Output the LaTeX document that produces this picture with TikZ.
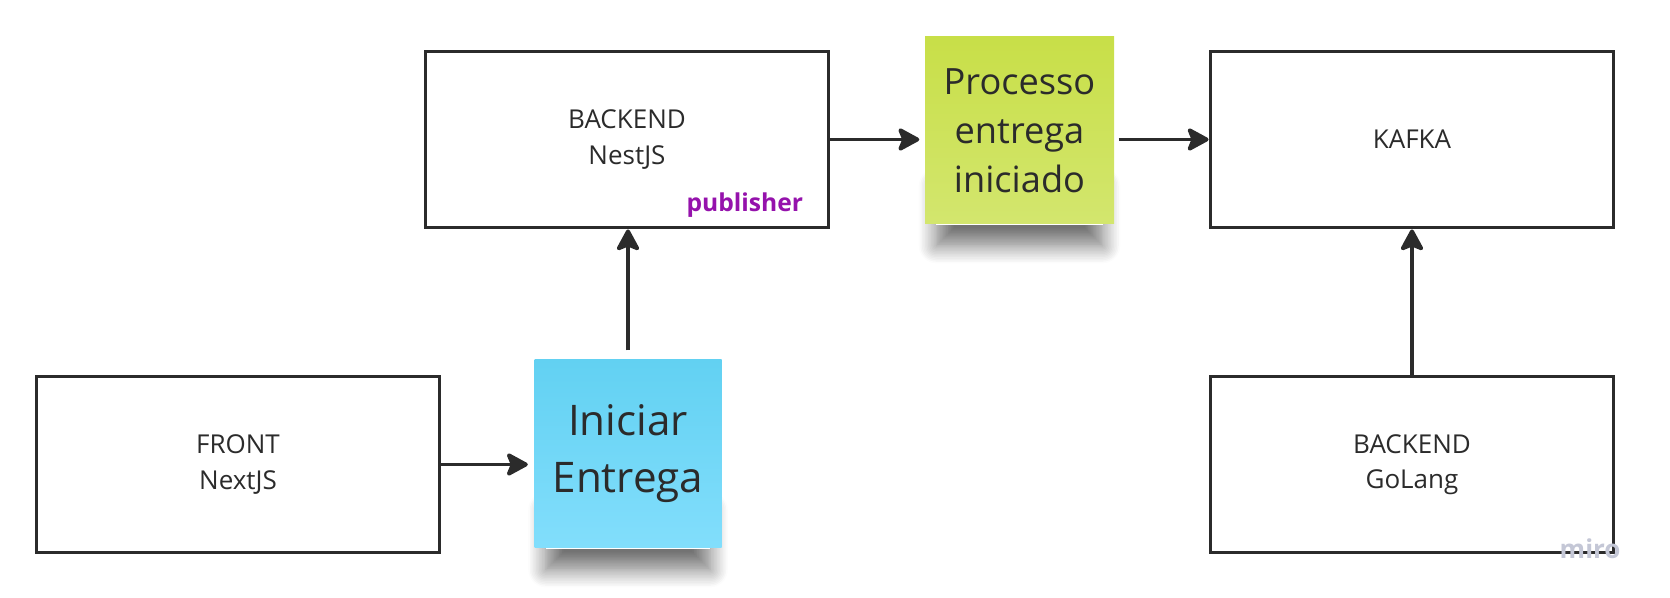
\documentclass[tikz,border=0pt]{standalone}
\usepackage{fontspec}
\setmainfont{Open Sans}
\usepackage{xcolor}
\usepackage{tikz}
\usetikzlibrary{arrows.meta,shadows.blur,backgrounds}

\definecolor{ink}{HTML}{2B2B2B}
\definecolor{pubpurple}{HTML}{9512AC}
\definecolor{cyantop}{HTML}{62D1F2}
\definecolor{cyanbot}{HTML}{82DEFC}
\definecolor{limetop}{HTML}{C8DF48}
\definecolor{limebot}{HTML}{D3E66E}
\definecolor{mirogray}{HTML}{C4C7D6}

\begin{document}
\begin{tikzpicture}[
		sysbox/.style={draw=ink,line width=1.1pt,fill=white,minimum width=4.03cm,minimum height=1.76cm,align=center,font=\fontsize{7.4}{10}\selectfont,text=ink},
		postit/.style={minimum width=1.87cm,minimum height=1.88cm,align=center,text=ink},
		lift/.style={fill=white,blur shadow={shadow xshift=0pt,shadow yshift=-6pt,shadow blur radius=5pt,shadow blur steps=12,shadow opacity=55}},
		flow/.style={draw=ink,line width=1.1pt,-{Stealth[length=7pt,width=7.5pt,inset=1.5pt,round]}}
	]
		\useasboundingbox (0,0) rectangle (16.7,5.98);
		\node[sysbox] (front) at (2.38,1.335) {FRONT\\NextJS};
		\node[postit,top color=cyantop,bottom color=cyanbot,font=\fontsize{12}{16.2}\selectfont] (iniciar) at (6.28,1.44) {Iniciar\\Entrega};
		\node[sysbox] (nest) at (6.27,4.585) {BACKEND\\NestJS};
		\node[anchor=base east,text=pubpurple,font=\bfseries\fontsize{7}{9}\selectfont] (pub) at ([xshift=-0.15cm,yshift=0.18cm]nest.south east) {publisher};
		\node[postit,minimum width=1.89cm,minimum height=1.87cm,top color=limetop,bottom color=limebot,font=\fontsize{10.3}{14}\selectfont] (processo) at (10.195,4.675) {Processo\\entrega\\iniciado};
		\node[sysbox] (kafka) at (14.12,4.585) {KAFKA};
		\node[sysbox] (golang) at (14.12,1.335) {BACKEND\\GoLang};
		\node[anchor=base east,text=mirogray,font=\bfseries\fontsize{7.4}{9}\selectfont] (miro) at (16.33,0.39) {miro};
		\begin{scope}[on background layer]
			\fill[lift] ([xshift=0.12cm]iniciar.south west) rectangle ([xshift=-0.12cm,yshift=0.6cm]iniciar.south east);
			\fill[lift] ([xshift=0.12cm]processo.south west) rectangle ([xshift=-0.12cm,yshift=0.6cm]processo.south east);
		\end{scope}
		\draw[flow,shorten >=0.06cm] (front.east) -- (iniciar.west |- front.east);
		\draw[flow,shorten <=0.09cm] (iniciar.north) -- (iniciar.north |- nest.south);
		\draw[flow,shorten >=0.05cm] (nest.east) -- (processo.west |- nest.east);
		\draw[flow,shorten <=0.04cm] (processo.east |- kafka.west) -- (kafka.west);
		\draw[flow] (golang.north) -- (kafka.south);
	\end{tikzpicture}
\end{document}
